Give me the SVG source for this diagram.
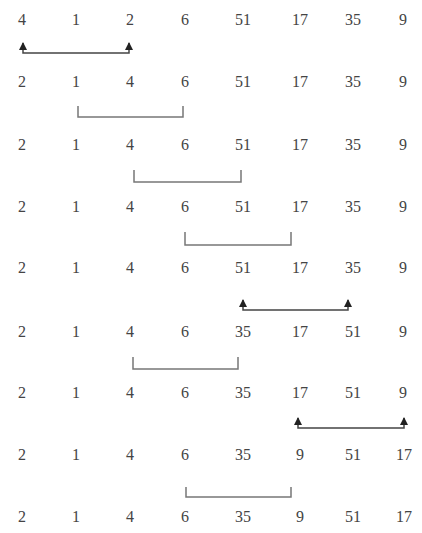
<svg xmlns="http://www.w3.org/2000/svg" width="422" height="533" viewBox="0 0 422 533">
<defs>
<style>
text{font-family:"Liberation Serif","Times New Roman",serif;font-size:16px;fill:#444;text-anchor:middle}
.br{fill:none;stroke:#777;stroke-width:1.5}
.ar{fill:none;stroke:#444;stroke-width:1.5}
</style>
<marker id="ah" viewBox="0 0 8 8" refX="7" refY="4" markerWidth="8" markerHeight="8" markerUnits="userSpaceOnUse" orient="auto-start-reverse">
<path d="M0,0 L8,4 L0,8 Z" fill="#222"/>
</marker>
</defs>
<g id="rows">
<g id="row1" transform="translate(0,25)"><text x="22">4</text><text x="76">1</text><text x="130">2</text><text x="185">6</text><text x="243">51</text><text x="300">17</text><text x="353">35</text><text x="403">9</text></g>
<g id="row2" transform="translate(0,87)"><text x="22">2</text><text x="76">1</text><text x="130">4</text><text x="185">6</text><text x="243">51</text><text x="300">17</text><text x="353">35</text><text x="403">9</text></g>
<g id="row3" transform="translate(0,150)"><text x="22">2</text><text x="76">1</text><text x="130">4</text><text x="185">6</text><text x="243">51</text><text x="300">17</text><text x="353">35</text><text x="403">9</text></g>
<g id="row4" transform="translate(0,212)"><text x="22">2</text><text x="76">1</text><text x="130">4</text><text x="185">6</text><text x="243">51</text><text x="300">17</text><text x="353">35</text><text x="403">9</text></g>
<g id="row5" transform="translate(0,273)"><text x="22">2</text><text x="76">1</text><text x="130">4</text><text x="185">6</text><text x="243">51</text><text x="300">17</text><text x="353">35</text><text x="403">9</text></g>
<g id="row6" transform="translate(0,337)"><text x="22">2</text><text x="76">1</text><text x="130">4</text><text x="185">6</text><text x="243">35</text><text x="300">17</text><text x="353">51</text><text x="403">9</text></g>
<g id="row7" transform="translate(0,398)"><text x="22">2</text><text x="76">1</text><text x="130">4</text><text x="185">6</text><text x="243">35</text><text x="300">17</text><text x="353">51</text><text x="403">9</text></g>
<g id="row8" transform="translate(0,460)"><text x="22">2</text><text x="76">1</text><text x="130">4</text><text x="185">6</text><text x="243">35</text><text x="300">9</text><text x="353">51</text><text x="404">17</text></g>
<g id="row9" transform="translate(0,522)"><text x="22">2</text><text x="76">1</text><text x="130">4</text><text x="185">6</text><text x="243">35</text><text x="300">9</text><text x="353">51</text><text x="404">17</text></g>
</g>
<g id="connectors">
<path class="ar" d="M23,43 V53 H129 V43" marker-start="url(#ah)" marker-end="url(#ah)"/>
<path class="br" d="M78,106 V117 H183 V106"/>
<path class="br" d="M134,170 V182 H241 V170"/>
<path class="br" d="M185,232 V245 H291 V232"/>
<path class="ar" d="M243,300 V310 H348 V300" marker-start="url(#ah)" marker-end="url(#ah)"/>
<path class="br" d="M133,357 V369 H238 V357"/>
<path class="ar" d="M298,418 V428 H404 V418" marker-start="url(#ah)" marker-end="url(#ah)"/>
<path class="br" d="M186,487 V497 H291 V487"/>
</g>
</svg>
